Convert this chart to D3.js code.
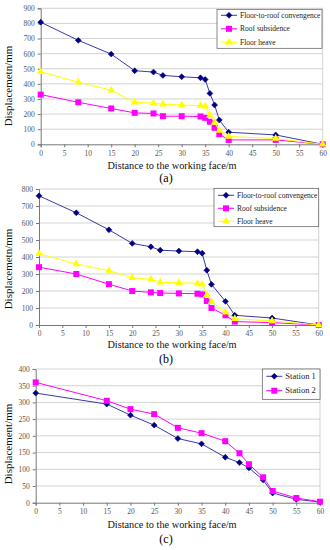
<!DOCTYPE html>
<html>
<head>
<meta charset="utf-8">
<script src="https://d3js.org/d3.v7.min.js"></script>
<style>
  body { margin: 0; background: #fff; }
  svg { display: block; }
  .grid line { stroke: #c8c8c8; stroke-width: 0.8; }
</style>
</head>
<body>
<script>
//data
var xTicks = [0, 5, 10, 15, 20, 25, 30, 35, 40, 45, 50, 55, 60];

//panel (a)
var distA = [0, 8, 15, 20, 24, 26, 30, 34, 35, 36, 37, 38, 40, 50, 60];
var convA = [808, 688, 597, 487, 478, 456, 447, 440, 429, 337, 260, 161, 80, 62, 0];
var roofA = [329, 278, 237, 208, 204, 186, 186, 184, 175, 149, 109, 67, 29, 29, 0];
var floorA = [480, 411, 358, 278, 272, 265, 260, 256, 252, 190, 144, 91, 51, 38, 0];

//panel (b)
var distB = [0, 8, 15, 20, 24, 26, 30, 34, 35, 36, 37, 40, 42, 50, 60];
var convB = [760, 660, 560, 480, 460, 440, 435, 431, 422, 322, 239, 139, 57, 41, 0];
var roofB = [340, 300, 240, 200, 192, 188, 186, 184, 180, 141, 100, 57, 20, 14, 0];
var floorB = [420, 359, 320, 278, 269, 251, 249, 245, 239, 176, 137, 75, 37, 24, 0];

//panel (c)
var distC = [0, 15, 20, 25, 30, 35, 40, 43, 45, 48, 50, 55, 60];
var station1 = [328, 295, 262, 232, 192, 176, 136, 120, 104, 68, 29, 10, 2];
var station2 = [360, 305, 280, 265, 224, 208, 184, 148, 115, 76, 35, 14, 3];

var seriesNamesAB = ["Floor-to-roof convengence", "Roof subsidence", "Floor heave"];
var seriesNamesC = ["Station 1", "Station 2"];

var serif = "'Liberation Serif', 'Times New Roman', serif";

var width = 330,
    height = 550;

var svg = d3.select("body")
    .append("svg")
    .attr("width", width)
    .attr("height", height);

//marker drawing per style
function drawMarker(g, kind, color) {
    if (kind == "diamond") {
        g.append("path").attr("d", d3.symbol(d3.symbolDiamond2, 22)())
            .attr("fill", color).attr("stroke", color).attr("stroke-width", 0.6);
    } else if (kind == "square") {
        g.append("rect").attr("x", -3).attr("y", -3).attr("width", 6).attr("height", 6)
            .attr("fill", color);
    } else {
        g.append("path").attr("d", d3.symbol(d3.symbolTriangle, 26)())
            .attr("fill", color);
    }
}

function drawPanel(p) {
    var x = d3.scaleLinear().domain([0, 60]).range([p.left, p.right]);
    var y = d3.scaleLinear().domain([0, p.yMax]).range([p.bottom, p.top]);

    var g = svg.append("g");

    //horizontal grid
    g.append("g")
        .attr("class", "grid")
        .selectAll("line")
        .data(p.yTicks.slice(1))
        .enter()
        .append("line")
        .attr("x1", p.left).attr("x2", p.right)
        .attr("y1", function (d) { return y(d); })
        .attr("y2", function (d) { return y(d); });

    //right border of plot area
    g.append("line")
        .attr("x1", p.right).attr("x2", p.right)
        .attr("y1", p.top).attr("y2", p.bottom)
        .attr("stroke", "#c8c8c8").attr("stroke-width", 0.8);

    var xAxis = g.append("g")
        .attr("transform", "translate(0," + p.bottom + ")")
        .call(d3.axisBottom(x).tickValues(xTicks).tickSize(3).tickPadding(3));
    var yAxis = g.append("g")
        .attr("transform", "translate(" + p.left + ",0)")
        .call(d3.axisLeft(y).tickValues(p.yTicks).tickSize(3).tickPadding(3));
    [xAxis, yAxis].forEach(function (ax) {
        ax.attr("font-family", serif).attr("font-size", 7.5);
        ax.select(".domain").attr("stroke", "#777");
        ax.selectAll(".tick line").attr("stroke", "#777");
        ax.selectAll(".tick text").attr("fill", "#555");
    });

    var line = d3.line()
        .x(function (d) { return x(d[0]); })
        .y(function (d) { return y(d[1]); });

    p.series.forEach(function (s) {
        var pts = p.dist.map(function (d, i) { return [d, s.values[i]]; });
        g.append("path")
            .datum(pts)
            .attr("fill", "none")
            .attr("stroke", s.line)
            .attr("stroke-width", 1)
            .attr("d", line);
        pts.forEach(function (pt) {
            var m = g.append("g").attr("transform", "translate(" + x(pt[0]) + "," + y(pt[1]) + ")");
            drawMarker(m, s.marker, s.color);
        });
    });

    //axis titles
    g.append("text")
        .attr("x", 172)
        .attr("y", p.xTitleY)
        .attr("text-anchor", "middle")
        .attr("font-family", serif)
        .attr("font-size", 10.3)
        .attr("fill", "#111")
        .text("Distance to the working face/m");
    g.append("text")
        .attr("transform", "translate(" + p.yTitleX + "," + p.yTitleY + ") rotate(-90)")
        .attr("text-anchor", "middle")
        .attr("font-family", serif)
        .attr("font-size", 11)
        .attr("fill", "#111")
        .text(p.yTitle);
    g.append("text")
        .attr("x", 166)
        .attr("y", p.labelY)
        .attr("text-anchor", "middle")
        .attr("font-family", serif)
        .attr("font-size", 12)
        .text(p.label);

    //legend
    var lg = g.append("g");
    lg.append("rect")
        .attr("x", p.legend.x).attr("y", p.legend.y)
        .attr("width", p.legend.w).attr("height", p.legend.h)
        .attr("fill", "#fff").attr("stroke", "#555").attr("stroke-width", 0.7);
    p.series.forEach(function (s, i) {
        var ry = p.legend.y + p.legend.row0 + i * p.legend.step;
        var lx = p.legend.x + 4;
        lg.append("line")
            .attr("x1", lx).attr("x2", lx + 16)
            .attr("y1", ry).attr("y2", ry)
            .attr("stroke", s.line).attr("stroke-width", 1);
        drawMarker(lg.append("g").attr("transform", "translate(" + (lx + 8) + "," + ry + ")"), s.marker, s.color);
        lg.append("text")
            .attr("x", lx + 19)
            .attr("y", ry + 2.5)
            .attr("font-family", serif)
            .attr("font-size", p.legend.font)
            .attr("fill", "#222")
            .text(s.name);
    });
}

var navy = "#000080", navyLine = "#3a3aa8", magenta = "#ff00ff", yellow = "#ffff00";

drawPanel({
    left: 40.7, right: 322.7, top: 8.3, bottom: 144.3, yMax: 900,
    yTicks: d3.range(0, 901, 100),
    dist: distA,
    series: [
        { name: seriesNamesAB[0], values: convA, color: navy, line: navyLine, marker: "diamond" },
        { name: seriesNamesAB[1], values: roofA, color: magenta, line: magenta, marker: "square" },
        { name: seriesNamesAB[2], values: floorA, color: yellow, line: yellow, marker: "triangle" }
    ],
    xTitleY: 168.5, labelY: 182, label: "(a)",
    yTitle: "Displacemetn/mm", yTitleX: 12, yTitleY: 86,
    legend: { x: 217, y: 9.3, w: 105, h: 39, row0: 6, step: 13.5, font: 7.5 }
});

drawPanel({
    left: 39, right: 318.7, top: 189, bottom: 325, yMax: 800,
    yTicks: d3.range(0, 801, 100),
    dist: distB,
    series: [
        { name: seriesNamesAB[0], values: convB, color: navy, line: navyLine, marker: "diamond" },
        { name: seriesNamesAB[1], values: roofB, color: magenta, line: magenta, marker: "square" },
        { name: seriesNamesAB[2], values: floorB, color: yellow, line: yellow, marker: "triangle" }
    ],
    xTitleY: 348, labelY: 363, label: "(b)",
    yTitle: "Displacemetn/mm", yTitleX: 12, yTitleY: 269,
    legend: { x: 214, y: 188.3, w: 104.7, h: 38.4, row0: 7, step: 13, font: 7.5 }
});

drawPanel({
    left: 35.7, right: 320, top: 369, bottom: 502.7, yMax: 400,
    yTicks: d3.range(0, 401, 50),
    dist: distC,
    series: [
        { name: seriesNamesC[0], values: station1, color: navy, line: navyLine, marker: "diamond" },
        { name: seriesNamesC[1], values: station2, color: magenta, line: magenta, marker: "square" }
    ],
    xTitleY: 528, labelY: 543, label: "(c)",
    yTitle: "Displacement/mm", yTitleX: 12, yTitleY: 444,
    legend: { x: 262.3, y: 369, w: 57.7, h: 30.3, row0: 7.3, step: 14.4, font: 8.5 }
});
</script>
</body>
</html>
